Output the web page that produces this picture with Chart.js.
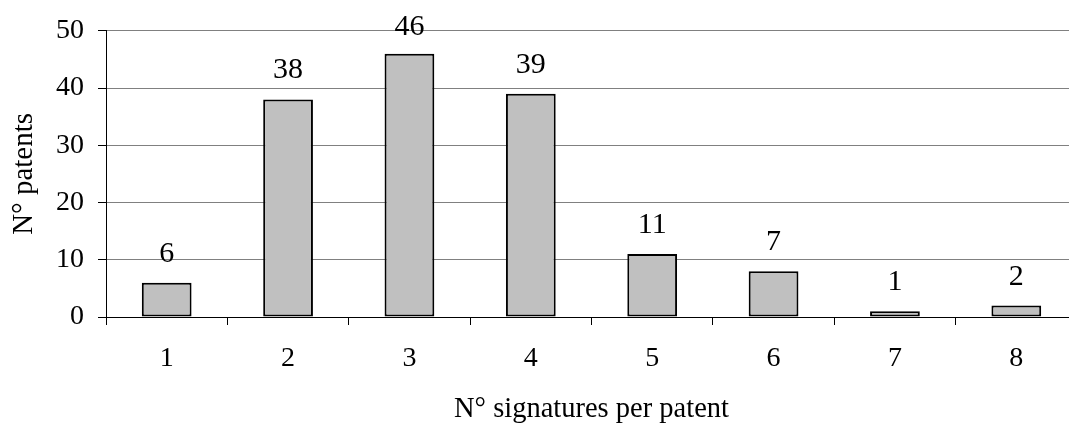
<!DOCTYPE html>
<html>
<head>
<meta charset="utf-8">
<script src="https://cdn.jsdelivr.net/npm/chart.js@4/dist/chart.umd.min.js"></script>
<style>
  html, body { margin: 0; padding: 0; background: #fff; overflow: hidden; }
  #wrap { width: 1080px; height: 428px; }
</style>
</head>
<body>
<div id="wrap"><canvas id="chart"></canvas></div>
<script>
const categories = ['1', '2', '3', '4', '5', '6', '7', '8'];
const patents = [6, 38, 46, 39, 11, 8, 1, 2];
const valueLabels = ['6', '38', '46', '39', '11', '7', '1', '2'];
const yTicks = [0, 10, 20, 30, 40, 50];

const serif = 'Liberation Serif, Times New Roman, serif';

// draws the numbers above each bar
const barLabels = {
  id: 'barLabels',
  afterDatasetsDraw(chart) {
    const ctx = chart.ctx;
    const meta = chart.getDatasetMeta(0);
    ctx.save();
    ctx.font = '30px ' + serif;
    ctx.fillStyle = '#000';
    ctx.textAlign = 'center';
    ctx.textBaseline = 'alphabetic';
    meta.data.forEach((bar, i) => {
      const { x, y } = bar.getProps(['x', 'y'], true);
      ctx.fillText(valueLabels[i], x, Math.max(y - 21, 35));
    });
    ctx.restore();
  }
};

new Chart(document.getElementById('chart'), {
  type: 'bar',
  data: {
    labels: categories,
    datasets: [{
      data: patents,
      backgroundColor: '#c0c0c0',
      borderColor: '#000',
      borderWidth: 2,
      borderSkipped: false,
      categoryPercentage: 1,
      barPercentage: 0.41
    }]
  },
  options: {
    responsive: true,
    maintainAspectRatio: false,
    animation: false,
    layout: { padding: { top: 30, right: 3, left: 0, bottom: 0 } },
    plugins: {
      legend: { display: false },
      tooltip: { enabled: false }
    },
    scales: {
      x: {
        grid: { offset: true, drawOnChartArea: false, drawTicks: true, tickLength: 8, color: '#000', lineWidth: 1 },
        border: { color: '#000', width: 1 },
        ticks: { color: '#000', font: { family: serif, size: 28 }, padding: 17, maxRotation: 0 },
        title: {
          display: true,
          text: 'N° signatures per patent',
          color: '#000',
          font: { family: serif, size: 28.5 },
          padding: { top: 0, bottom: 1 }
        },
        afterFit(scale) { scale.height = 111; }
      },
      y: {
        min: 0,
        max: 50,
        afterBuildTicks(scale) { scale.ticks = yTicks.map(v => ({ value: v })); },
        grid: { color: '#808080', tickColor: '#000', lineWidth: 1, drawTicks: true, tickLength: 8 },
        border: { color: '#000', width: 1 },
        ticks: { color: '#000', font: { family: serif, size: 28 }, padding: 14 },
        title: {
          display: true,
          text: 'N° patents',
          color: '#000',
          font: { family: serif, size: 29 },
          padding: { top: 7, bottom: 0 }
        },
        afterFit(scale) { scale.width = 106; }
      }
    }
  },
  plugins: [barLabels]
});
</script>
</body>
</html>
